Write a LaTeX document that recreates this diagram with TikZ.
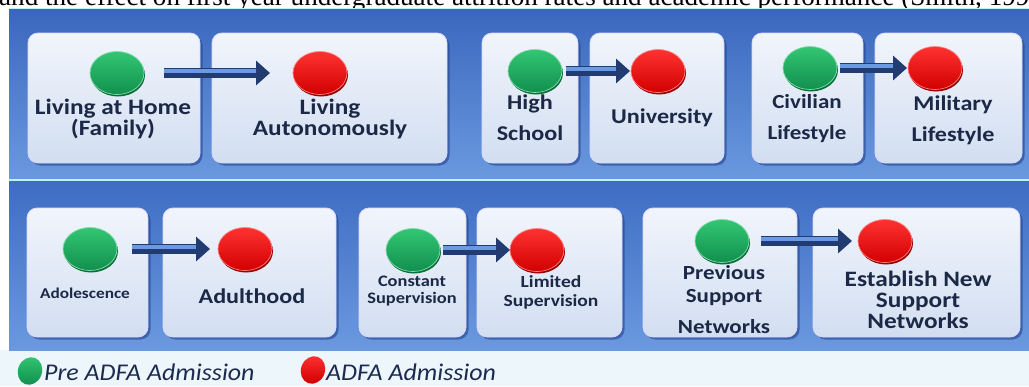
\documentclass[tikz,border=0pt]{standalone}
\usepackage{graphicx}
\usepackage{fontspec}
\setmainfont{Liberation Serif}
\newfontfamily\lblfont{Carlito}[FakeStretch=1.15]
\newfontfamily\legfont{Carlito}[FakeStretch=1.08]
\usetikzlibrary{shapes.geometric,arrows.meta,shadows}
\lineskiplimit=-100pt
\definecolor{navy}{HTML}{1B2846}
\definecolor{legnavy}{HTML}{1C2A50}
\definecolor{panA}{HTML}{3A67BD}
\definecolor{panB}{HTML}{6B99DF}
\definecolor{panC}{HTML}{3E6CC3}
\definecolor{cyanline}{HTML}{BDF3F7}
\definecolor{legbg}{HTML}{EDF6FA}
\definecolor{boxtop}{HTML}{F1F5FC}
\definecolor{boxbot}{HTML}{D2DEF1}
\definecolor{boxshadow}{HTML}{22438A}
\definecolor{gtop}{HTML}{33C674}
\definecolor{gbot}{HTML}{11904E}
\definecolor{grim}{HTML}{0B6E3A}
\definecolor{rtop}{HTML}{FF3232}
\definecolor{rbot}{HTML}{D20000}
\definecolor{rrim}{HTML}{9A0000}
\definecolor{arrdark}{HTML}{223C72}
\definecolor{arrlight}{HTML}{6A9AE4}
\newcommand{\panelbox}[5]{\node[pbox, minimum width={(#4-#2)*1pt}, minimum height={(#5-#3)*1pt}] (#1) at ({(#2+#4)/2},{(#3+#5)/2}) {};}
\newcommand{\btnarrow}[4]{%
  \draw[arr, shorten <=#3pt, shorten >=#4pt] (#1) -- (#2);
  \draw[arrin, shorten <=#3pt, shorten >=#4pt+14pt] (#1) -- (#2);}
\begin{document}
\begin{tikzpicture}[x=1pt,y=-1pt,
  pbox/.style={rectangle, rounded corners=10pt, inner sep=0pt, outer sep=0pt,
    top color=boxtop, bottom color=boxbot, draw=white!85!blue, line width=0.8pt,
    drop shadow={shadow xshift=2.5pt, shadow yshift=-2.5pt, fill=boxshadow, opacity=0.6}},
  gbtn/.style={ellipse, inner sep=0pt, outer sep=0pt, minimum width=54pt, minimum height=43pt,
    top color=gtop, bottom color=gbot, draw=gtop!60!white, line width=0.7pt,
    drop shadow={shadow xshift=1pt, shadow yshift=-2pt, fill=grim, opacity=1}},
  rbtn/.style={ellipse, inner sep=0pt, outer sep=0pt, minimum width=54pt, minimum height=43pt,
    top color=rtop, bottom color=rbot, draw=rtop!60!white, line width=0.7pt,
    drop shadow={shadow xshift=1pt, shadow yshift=-2pt, fill=rrim, opacity=1}},
  arr/.style={line width=10pt, draw=arrdark, -{Triangle[length=14pt, width=24pt]}},
  arrin/.style={line width=4pt, draw=arrlight, transform canvas={yshift=2pt}},
  lbl/.style={text=navy, align=center, inner sep=0pt},
  f22/.style={font=\lblfont\bfseries\fontsize{22}{21}\selectfont},
  f21/.style={font=\lblfont\bfseries\fontsize{21}{21}\selectfont},
  f21w/.style={font=\lblfont\bfseries\fontsize{21}{31}\selectfont},
  f20w/.style={font=\lblfont\bfseries\fontsize{20}{31}\selectfont},
  f20/.style={font=\lblfont\bfseries\fontsize{20}{23}\selectfont},
  f17/.style={font=\lblfont\bfseries\fontsize{17}{19}\selectfont},
  f16/.style={font=\lblfont\bfseries\fontsize{16}{17}\selectfont},
  f15/.style={font=\lblfont\bfseries\fontsize{15}{17}\selectfont},
  leg/.style={text=legnavy, inner sep=0pt, anchor=base west, font=\legfont\itshape\fontsize{24}{26}\selectfont},
  lgbtn/.style={ellipse, inner sep=0pt, minimum width=24pt, minimum height=28pt, rotate=-20}
]
\useasboundingbox (0,0) rectangle (1029,386);
\clip (0,0) rectangle (1029,386);
\fill[white] (0,0) rectangle (1029,386);
\fill[legbg] (0,350) rectangle (1029,386);
% cut-off caption line
\node[anchor=base west, inner sep=0pt] (cap) at (-1,5.5)
  {\resizebox{1030pt}{!}{and the effect on first year undergraduate attrition rates and academic performance (Smith, 199}};
% panel
\fill[top color=panA, bottom color=panB] (9,8) rectangle (1029,180);
\fill[top color=panC, bottom color=panB] (9,180) rectangle (1029,350);
\draw[cyanline, line width=1.5pt] (9,8.5) -- (1029,8.5);
\draw[cyanline, line width=1.8pt] (9,180) -- (1029,180);
% boxes
\panelbox{b1}{28}{33}{200}{163}
\panelbox{b2}{212}{33}{447}{163}
\panelbox{b3}{482}{33}{578}{163}
\panelbox{b4}{590}{33}{724}{163}
\panelbox{b5}{752}{33}{863}{163}
\panelbox{b6}{875}{33}{1022}{163}
\panelbox{b7}{27}{208}{148}{337}
\panelbox{b8}{163}{208}{336}{337}
\panelbox{b9}{359}{208}{466}{337}
\panelbox{b10}{477}{208}{622}{337}
\panelbox{b11}{643}{208}{797}{337}
\panelbox{b12}{813}{208}{1020}{337}
% buttons
\node[gbtn] (g1) at (117,73) {};
\node[rbtn] (r1) at (320,73) {};
\node[gbtn] (g2) at (535,71) {};
\node[rbtn] (r2) at (658,71) {};
\node[gbtn] (g3) at (810,68) {};
\node[rbtn] (r3) at (935,68) {};
\node[gbtn] (g4) at (90,249) {};
\node[rbtn] (r4) at (245,249) {};
\node[gbtn] (g5) at (413,250) {};
\node[rbtn] (r5) at (537,250) {};
\node[gbtn] (g6) at (722,241) {};
\node[rbtn] (r6) at (885,241) {};
% arrows
\btnarrow{g1}{r1}{20}{23}
\btnarrow{g2}{r2}{4}{1}
\btnarrow{g3}{r3}{3}{1}
\btnarrow{g4}{r4}{15}{8}
\btnarrow{g5}{r5}{3}{0}
\btnarrow{g6}{r6}{12}{6}
% labels
\node[lbl, f22] (t1) at (113,119) {Living at Home\\(Family)};
\node[lbl, f22] (t2) at (330,119) {Living\\Autonomously};
\node[lbl, f21w] (t3) at (530,118) {High\\School};
\node[lbl, f21] (t4) at (662,118) {University};
\node[lbl, f20w] (t5) at (807,119) {Civilian\\Lifestyle};
\node[lbl, f21w] (t6) at (953,120) {Military\\Lifestyle};
\node[lbl, f15] (t7) at (85,293) {Adolescence};
\node[lbl, f21] (t8) at (252,296) {Adulthood};
\node[lbl, f16] (t9) at (412,291) {Constant\\Supervision};
\node[lbl, f17] (t10) at (551,292) {Limited\\Supervision};
\node[lbl, f20] (t11) at (724,300) {Previous\\Support\\[8pt]Networks};
\node[lbl, f22] (t12) at (918,300) {Establish New\\Support\\Networks};
% legend
\node[lgbtn, top color=gtop, bottom color=gbot] (lg) at (30,371) {};
\node[leg] (ltg) at (44,380) {Pre ADFA Admission};
\node[lgbtn, top color=rtop, bottom color=rbot] (lr) at (313,370) {};
\node[leg] (ltr) at (326,380) {ADFA Admission};
\end{tikzpicture}
\end{document}
